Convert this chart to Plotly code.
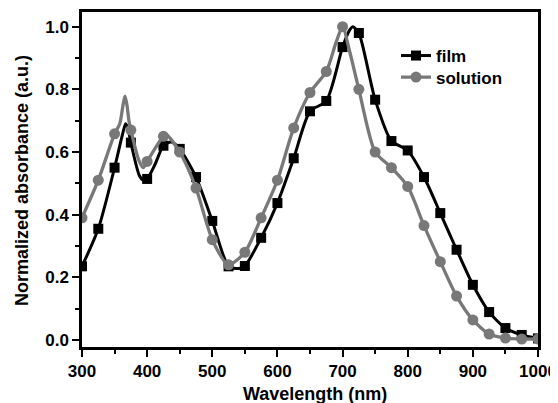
import plotly.graph_objects as go

# Marker positions (every 25 nm)
wavelength = list(range(300, 1001, 25))
film = [0.235, 0.355, 0.55, 0.63, 0.514, 0.62, 0.61, 0.52, 0.38, 0.235,
        0.236, 0.326, 0.437, 0.58, 0.73, 0.763, 0.935, 0.98, 0.767, 0.635,
        0.605, 0.52, 0.405, 0.288, 0.176, 0.089, 0.038, 0.016, 0.005]
solution = [0.39, 0.51, 0.658, 0.67, 0.57, 0.65, 0.60, 0.485, 0.32, 0.24,
            0.28, 0.39, 0.51, 0.677, 0.79, 0.857, 1.0, 0.80, 0.60, 0.55,
            0.49, 0.365, 0.25, 0.14, 0.064, 0.019, 0.006, 0.003, 0.003]

# Additional curve points between markers (peaks / minima)
film_extra_nm = [362, 367, 371, 388, 394, 412, 437, 541, 711, 716]
film_extra_abs = [0.655, 0.69, 0.672, 0.525, 0.51, 0.56, 0.632, 0.228, 0.99, 1.0]
solution_extra_nm = [358, 363, 366, 369, 372, 387, 394, 430, 690, 711]
solution_extra_abs = [0.69, 0.75, 0.778, 0.75, 0.70, 0.575, 0.55, 0.655, 0.95, 0.92]

GRAY = "rgb(120,120,120)"
FONT = "Liberation Sans, Arial, sans-serif"

# page has an 8px body margin: figure pixel = page pixel - 8
OFF = 8
W, H = 558 - OFF, 403 - OFF
L, T = 82 - OFF, 12 - OFF
R = W - (538 - OFF)
B = H - (347 - OFF)
PW, PH = W - L - R, H - T - B


def px_x(page_px):
    return (page_px - OFF - L) / PW


def px_y(page_py):
    return (H - B - (page_py - OFF)) / PH


def merged(x1, y1, x2, y2):
    pts = sorted(zip(list(x1) + list(x2), list(y1) + list(y2)))
    return [p[0] for p in pts], [p[1] for p in pts]


fig = go.Figure()

series = [
    ("film", film, film_extra_nm, film_extra_abs, "black", "square", 10, 3.0, "legend"),
    ("solution", solution, solution_extra_nm, solution_extra_abs, GRAY, "circle", 11, 3.3, "legend2"),
]

for name, vals, ex, ey, color, symbol, msize, lw, leg in series:
    lx, ly = merged(wavelength, vals, ex, ey)
    fig.add_trace(go.Scatter(x=lx, y=ly, mode="lines",
                             line=dict(color=color, width=lw, shape="spline", smoothing=0.7),
                             showlegend=False, hoverinfo="skip"))
    fig.add_trace(go.Scatter(x=wavelength, y=vals, mode="markers",
                             marker=dict(color=color, symbol=symbol, size=msize),
                             showlegend=False))

for name, vals, ex, ey, color, symbol, msize, lw, leg in series:
    fig.add_trace(go.Scatter(x=[None], y=[None], mode="lines+markers", name=name,
                             legend=leg,
                             line=dict(color=color, width=lw),
                             marker=dict(color=color, symbol=symbol, size=msize)))

axis_common = dict(
    showgrid=False, zeroline=False, showline=True, linecolor="black", linewidth=2.5,
    mirror=True, ticks="outside", ticklen=7, tickwidth=2, tickcolor="black",
    automargin=False, ticklabeloverflow="allow",
    tickfont=dict(family=FONT, size=17, color="black", weight="bold"),
)

legend_common = dict(xanchor="left", yanchor="top", bgcolor="rgba(0,0,0,0)", borderwidth=0,
                     font=dict(family=FONT, size=17, color="black", weight="bold"))

fig.update_layout(
    width=W, height=H, autosize=False,
    margin=dict(l=L, r=R, t=T, b=B),
    paper_bgcolor="white", plot_bgcolor="white",
    xaxis=dict(range=[300, 1000], tick0=300, dtick=100,
               minor=dict(dtick=50, ticklen=4, tickwidth=2, ticks="outside", tickcolor="black"),
               **axis_common),
    yaxis=dict(range=[-0.0225, 1.047], tick0=0, dtick=0.2, tickformat=".1f",
               minor=dict(dtick=0.1, ticklen=4, tickwidth=2, ticks="outside", tickcolor="black"),
               **axis_common),
    legend=dict(x=px_x(396), y=px_y(38), **legend_common),
    legend2=dict(x=px_x(396), y=px_y(59.5), **legend_common),
    annotations=[
        dict(text="Wavelength (nm)", xref="paper", yref="paper",
             x=px_x(315), y=px_y(382), xanchor="center", yanchor="top", showarrow=False,
             font=dict(family=FONT, size=18, color="black", weight="bold")),
        dict(text="Normalized absorbance (a.u.)", xref="paper", yref="paper",
             x=px_x(22), y=px_y(181), xanchor="center", yanchor="middle", showarrow=False,
             textangle=-90,
             font=dict(family=FONT, size=18, color="black", weight="bold")),
    ],
)

fig.write_html("out.html")
